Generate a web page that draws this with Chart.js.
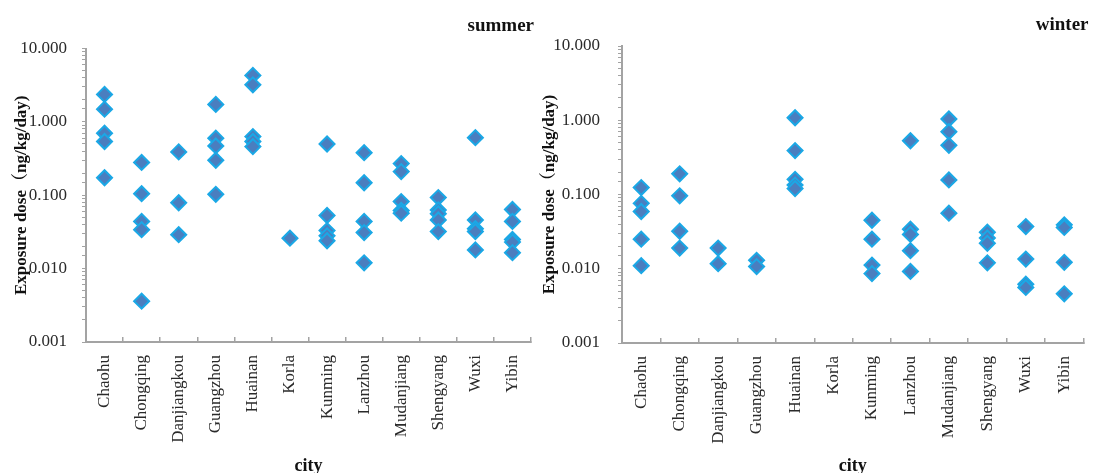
<!DOCTYPE html>
<html>
<head>
<meta charset="utf-8">
<script src="https://cdn.jsdelivr.net/npm/chart.js@4/dist/chart.umd.min.js"></script>
<style>
  html, body { margin: 0; padding: 0; background: #ffffff; }
  body { width: 1093px; height: 473px; position: relative; overflow: hidden; }
  canvas { position: absolute; top: 0; }
  #summerChart { left: 0; }
  #winterChart { left: 536px; }
</style>
</head>
<body>
<canvas id="summerChart" width="545" height="473"></canvas>
<canvas id="winterChart" width="557" height="473"></canvas>
<script>
// Cities on the category axis
const cities = ['Chaohu', 'Chongqing', 'Danjiangkou', 'Guangzhou', 'Huainan', 'Korla',
                'Kunming', 'Lanzhou', 'Mudanjiang', 'Shengyang', 'Wuxi', 'Yibin'];

// Exposure dose (ng/kg/day), one list per city, summer sampling
const summerDose = [
  [2.37, 1.49, 0.70, 0.54, 0.173],
  [0.28, 0.105, 0.044, 0.034, 0.0036],
  [0.39, 0.079, 0.029],
  [1.73, 0.60, 0.47, 0.30, 0.103],
  [4.3, 3.2, 0.63, 0.54, 0.46],
  [0.026],
  [0.50, 0.053, 0.033, 0.028, 0.024],
  [0.38, 0.148, 0.044, 0.031, 0.012],
  [0.27, 0.21, 0.082, 0.062, 0.057],
  [0.093, 0.063, 0.056, 0.046, 0.032],
  [0.61, 0.046, 0.035, 0.032, 0.018],
  [0.064, 0.044, 0.025, 0.023, 0.0165]
];

// Exposure dose (ng/kg/day), one list per city, winter sampling
const winterDose = [
  [0.124, 0.076, 0.059, 0.025, 0.011],
  [0.19, 0.096, 0.032, 0.019],
  [0.019, 0.0117],
  [0.013, 0.0107],
  [1.08, 0.39, 0.16, 0.134, 0.12],
  [],
  [0.045, 0.025, 0.0112, 0.0086],
  [0.53, 0.034, 0.029, 0.0175, 0.0092],
  [1.04, 0.70, 0.46, 0.157, 0.056],
  [0.031, 0.026, 0.022, 0.012],
  [0.037, 0.0135, 0.0062, 0.0056],
  [0.039, 0.036, 0.0122, 0.0046]
];

// Log axis range and the decade labels shown on it
const doseMin = 0.001;
const doseMax = 10;
const decadeLabels = ['0.001', '0.010', '0.100', '1.000', '10.000'];

const yTitle = 'Exposure dose（ng/kg/day)';
const xTitle = 'city';

const serif = "'Liberation Serif', 'Times New Roman', 'Noto Serif CJK SC', 'Noto Sans CJK SC', serif";
const axisGray = '#a3a3a3';

function toPoints(doseLists) {
  const pts = [];
  doseLists.forEach((list, i) => {
    list.forEach(v => pts.push({ x: cities[i], y: v }));
  });
  return pts;
}

// Season label drawn at the top right corner of the plot
const seasonLabel = {
  id: 'seasonLabel',
  afterDraw(chart, args, opts) {
    const ctx = chart.ctx;
    ctx.save();
    ctx.font = 'bold 19px ' + serif;
    ctx.fillStyle = '#111';
    ctx.textAlign = 'right';
    ctx.textBaseline = 'alphabetic';
    ctx.fillText(opts.text, chart.chartArea.right + opts.dx, opts.y);
    ctx.restore();
  }
};

function makeChart(id, doseLists, cfg) {
  return new Chart(document.getElementById(id), {
    type: 'scatter',
    data: {
      labels: cities,
      datasets: [{
        data: toPoints(doseLists),
        pointStyle: 'rectRot',
        pointRadius: 7.5,
        pointHoverRadius: 7.5,
        backgroundColor: '#4a7ebf',
        borderColor: '#1aa8e6',
        borderWidth: 2,
        showLine: false
      }]
    },
    options: {
      responsive: false,
      devicePixelRatio: 1,
      animation: false,
      events: [],
      layout: { padding: { top: cfg.top, right: cfg.right, left: 0, bottom: 0 } },
      plugins: {
        legend: { display: false },
        tooltip: { enabled: false },
        seasonLabel: { text: cfg.season, dx: cfg.labelDx, y: cfg.labelY }
      },
      scales: {
        x: {
          type: 'category',
          labels: cities,
          offset: true,
          afterFit: s => {
            s.height = cfg.xHeight;
            s.paddingLeft = 0;
            s.paddingRight = 0;
          },
          grid: {
            offset: true,
            drawOnChartArea: false,
            drawTicks: true,
            tickLength: -5,
            color: axisGray,
            lineWidth: 1.5
          },
          border: { color: axisGray, width: 2 },
          ticks: {
            minRotation: 90,
            maxRotation: 90,
            autoSkip: false,
            padding: 18,
            color: '#2a2a2a',
            font: { family: serif, size: 17 }
          },
          title: {
            display: true,
            text: xTitle,
            color: '#111',
            font: { family: serif, size: 18, weight: 'bold' },
            padding: { top: 0, bottom: -4 }
          }
        },
        y: {
          type: 'logarithmic',
          min: doseMin,
          max: doseMax,
          afterFit: s => { s.width = cfg.yWidth; },
          grid: {
            drawOnChartArea: false,
            drawTicks: true,
            tickLength: 4,
            color: axisGray,
            lineWidth: 1
          },
          border: { color: axisGray, width: 2 },
          ticks: {
            autoSkip: false,
            padding: cfg.yPad,
            color: '#2a2a2a',
            font: { family: serif, size: 17 },
            callback: v => {
              const e = Math.log10(v);
              if (Math.abs(e - Math.round(e)) > 1e-6) return '';
              return decadeLabels[Math.round(e) + 3];
            }
          },
          title: {
            display: true,
            text: yTitle,
            color: '#111',
            font: { family: serif, size: 17, weight: 'bold' },
            padding: { top: cfg.yTitlePad, bottom: 0 }
          }
        }
      }
    },
    plugins: [seasonLabel]
  });
}

makeChart('summerChart', summerDose, {
  season: 'summer', top: 48.5, right: 14, xHeight: 131, yWidth: 86,
  yPad: 15, yTitlePad: 11, labelDx: 3, labelY: 31
});
makeChart('winterChart', winterDose, {
  season: 'winter', top: 46, right: 6, xHeight: 130, yWidth: 86,
  yPad: 18, yTitlePad: 3, labelDx: 5, labelY: 30
});
</script>
</body>
</html>
